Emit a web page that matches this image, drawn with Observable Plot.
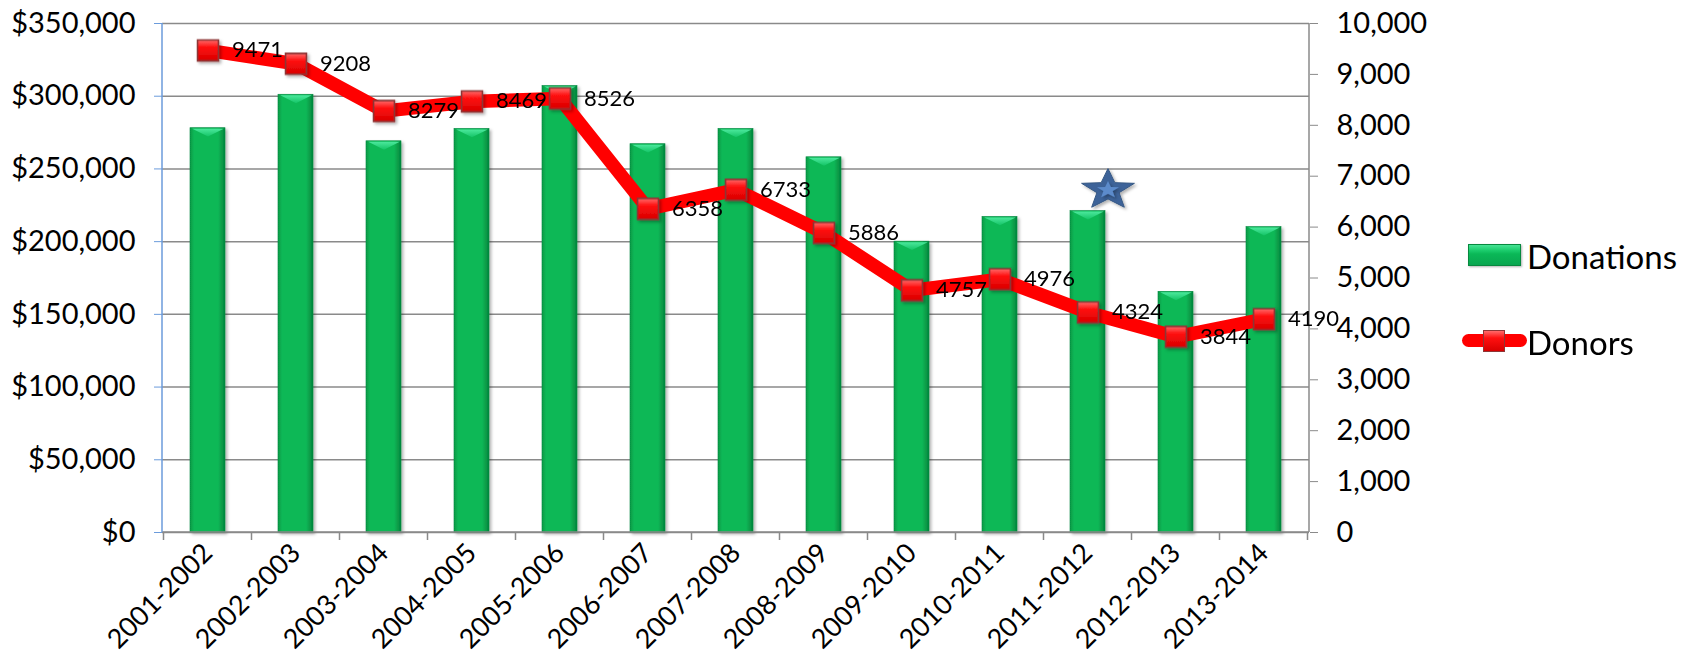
<!DOCTYPE html>
<html>
<head>
<meta charset="utf-8">
<script src="https://cdn.jsdelivr.net/npm/d3@7"></script>
<script src="https://cdn.jsdelivr.net/npm/@observablehq/plot@0.6"></script>
<style>
  html, body { margin: 0; padding: 0; background: #fff; }
  #wrap { position: relative; width: 1694px; height: 662px; font-family: Lato, sans-serif; }
  .lg { position: absolute; }
  .lgtext { position: absolute; font-size: 33px; color: #000; line-height: 1; transform: translateY(-50%); white-space: nowrap; }
</style>
</head>
<body>
<div id="wrap"></div>
<script>
// ---- data ----
const categories = ["2001-2002","2002-2003","2003-2004","2004-2005","2005-2006","2006-2007","2007-2008","2008-2009","2009-2010","2010-2011","2011-2012","2012-2013","2013-2014"];
const donations = [278000, 301000, 269000, 277500, 307000, 267000, 277500, 258000, 200000, 217000, 221000, 165500, 210000];
const donors = [9471, 9208, 8279, 8469, 8526, 6358, 6733, 5886, 4757, 4976, 4324, 3844, 4190];
const leftTicks = [0, 50000, 100000, 150000, 200000, 250000, 300000, 350000];
const rightTicks = [0, 1000, 2000, 3000, 4000, 5000, 6000, 7000, 8000, 9000, 10000];
const seriesNames = ["Donations", "Donors"];
const starCategory = "2011-2012";
const starDonors = 6730;

const leftMax = leftTicks[leftTicks.length - 1];
const rightMax = rightTicks[rightTicks.length - 1];
const k = leftMax / rightMax; // donors -> left-axis units

const table = categories.map((c, i) => ({year: c, donations: donations[i], donors: donors[i], dy: donors[i] * k}));

const blue = "#6B9BDB";
const gray = "#8A8A8A";

// squashed 5-point star like Office's
const starSymbol = {
  draw(context, size) {
    const R = Math.sqrt(size / Math.PI) * 1.78;
    const ri = R * 0.42, sx = 1.3;
    for (let i = 0; i < 10; i++) {
      const a = -Math.PI / 2 + i * Math.PI / 5;
      const r = i % 2 ? ri : R;
      const px = Math.cos(a) * r * sx, py = Math.sin(a) * r;
      if (i === 0) context.moveTo(px, py); else context.lineTo(px, py);
    }
    context.closePath();
  }
};

// bevel highlight on top of each bar (downward triangle)
const bevelSymbol = {
  draw(context, size) {
    const w = Math.sqrt(size / Math.PI) * 1.5;
    context.moveTo(-w, 0);
    context.lineTo(w, 0);
    context.lineTo(0, w * 0.5);
    context.closePath();
  }
};

function defsMark() {
  const defs = d3.create("svg:defs");
  const bg = defs.append("linearGradient").attr("id", "barGrad").attr("x1", "0").attr("x2", "1").attr("y1", "0").attr("y2", "0");
  [["0%", "#079946"], ["12%", "#0AB857"], ["80%", "#0AB857"], ["100%", "#05853D"]].forEach(([o, c]) => bg.append("stop").attr("offset", o).attr("stop-color", c));
  const vg = defs.append("linearGradient").attr("id", "bevGrad").attr("x1", "0").attr("x2", "0").attr("y1", "0").attr("y2", "1");
  [["0%", "#4BE89C"], ["100%", "#14C466"]].forEach(([o, c]) => vg.append("stop").attr("offset", o).attr("stop-color", c));
  const mg = defs.append("linearGradient").attr("id", "markGrad").attr("x1", "0").attr("x2", "0").attr("y1", "0").attr("y2", "1");
  [["0%", "#FF6A6A"], ["35%", "#FF1010"], ["100%", "#D80000"]].forEach(([o, c]) => mg.append("stop").attr("offset", o).attr("stop-color", c));
  const f = defs.append("filter").attr("id", "shadow").attr("x", "-20%").attr("y", "-20%").attr("width", "150%").attr("height", "150%");
  f.append("feDropShadow").attr("dx", 2).attr("dy", 2).attr("stdDeviation", 1.6).attr("flood-color", "#000").attr("flood-opacity", 0.3);
  return defs.node();
}

function frameMark(index, scales, values, dims) {
  const {width, height, marginLeft, marginRight, marginTop, marginBottom} = dims;
  const x = scales.x;
  const g = d3.create("svg:g");
  const bottom = height - marginBottom;
  const right = width - marginRight;
  const half = (x.step() - x.bandwidth()) / 2;
  const bounds = categories.map(c => x(c) - half).concat([x(categories[categories.length - 1]) + x.bandwidth() + half]);
  g.selectAll("line.xt").data(bounds).join("line")
    .attr("x1", d => d).attr("x2", d => d).attr("y1", bottom).attr("y2", bottom + 8)
    .attr("stroke", gray).attr("stroke-width", 1.5);
  g.append("line").attr("x1", marginLeft).attr("x2", right).attr("y1", bottom).attr("y2", bottom).attr("stroke", gray).attr("stroke-width", 1.5);
  g.append("line").attr("x1", right).attr("x2", right).attr("y1", marginTop).attr("y2", bottom).attr("stroke", gray).attr("stroke-width", 1.5);
  g.append("line").attr("x1", marginLeft).attr("x2", marginLeft).attr("y1", marginTop).attr("y2", bottom).attr("stroke", blue).attr("stroke-width", 1.5);
  return g.node();
}

const chart = Plot.plot({
  width: 1694,
  height: 662,
  marginLeft: 162,
  marginRight: 385,
  marginTop: 23,
  marginBottom: 130,
  style: {fontFamily: "Lato, sans-serif", fontSize: "29px", color: "#000", background: "#fff", overflow: "visible"},
  x: {type: "band", domain: categories, paddingInner: 0.6, paddingOuter: 0.3, label: null},
  y: {domain: [0, leftMax], label: null},
  marks: [
    defsMark,
    Plot.ruleY(leftTicks, {stroke: gray, strokeWidth: 1.5}),
    Plot.barY(table, {x: "year", y: "donations", fill: "url(#barGrad)", stroke: "#07893F", strokeWidth: 0.6}),
    Plot.dot(table, {x: "year", y: "donations", symbol: bevelSymbol, r: 10.5, dy: 0.5, fill: "url(#bevGrad)"}),
    frameMark,
    Plot.axisY(leftTicks, {anchor: "left", tickSize: 8, tickPadding: 19, stroke: blue, fill: "#000", fontSize: 29, tickFormat: d3.format("$,"), label: null}),
    Plot.axisY(rightTicks.map(d => d * k), {anchor: "right", tickSize: 8, tickPadding: 19, stroke: gray, fill: "#000", fontSize: 29, tickFormat: d => d3.format(",")(Math.round(d / k)), label: null}),
    Plot.axisX({anchor: "bottom", tickSize: 0, tickPadding: 16, tickRotate: -45, fontSize: 27, fill: "#000", label: null}),
    Plot.line(table, {x: "year", y: "dy", stroke: "#FF0000", strokeWidth: 13.5, strokeLinejoin: "round", strokeLinecap: "round"}),
    Plot.dot(table, {x: "year", y: "dy", symbol: "square", r: 11.8, fill: "url(#markGrad)", stroke: "#8E3636", strokeWidth: 1.6}),
    Plot.text(table, {x: "year", y: "dy", text: d => String(d.donors), dx: 24, textAnchor: "start", fontSize: 22, fill: "#000"}),
    Plot.dot([{year: starCategory, v: starDonors * k}], {x: "year", y: "v", symbol: starSymbol, r: 12, dx: 20, fill: "#3E6399", stroke: "#355884", strokeWidth: 1}),
    Plot.dot([{year: starCategory, v: starDonors * k}], {x: "year", y: "v", symbol: starSymbol, r: 5, dx: 20, fill: "#5B8BCB"})
  ]
});

d3.select(chart).selectAll('g[aria-label="bar"]').attr("filter", "url(#shadow)");
d3.select(chart).selectAll('g[aria-label="dot"]').filter((d, i, nodes) => nodes[i].querySelector("path") && i > 0).attr("filter", "url(#shadow)");

const wrap = document.getElementById("wrap");
wrap.appendChild(chart);

// legend (right side)
const lg = d3.select(wrap);
lg.append("div").attr("class", "lg")
  .style("left", "1468px").style("top", "244px").style("width", "53px").style("height", "22px")
  .style("box-sizing", "border-box").style("border", "1px solid #07893F")
  .style("background", "linear-gradient(to bottom, #46E394 0%, #1ACB6B 28%, #0AB857 45%, #09A650 100%)")
  .style("box-shadow", "1px 1px 2px rgba(0,0,0,0.3)");
lg.append("div").attr("class", "lgtext").style("left", "1527px").style("top", "256px").text(seriesNames[0]);
lg.append("div").attr("class", "lg")
  .style("left", "1462px").style("top", "334px").style("width", "65px").style("height", "13px")
  .style("border-radius", "6.5px").style("background", "#FF0000");
lg.append("div").attr("class", "lg")
  .style("left", "1483px").style("top", "330px").style("width", "22px").style("height", "22px")
  .style("box-sizing", "border-box").style("border", "1.6px solid #8E3636")
  .style("background", "linear-gradient(to bottom, #FF6A6A 0%, #FF1010 35%, #D80000 100%)");
lg.append("div").attr("class", "lgtext").style("left", "1527px").style("top", "342px").text(seriesNames[1]);
</script>
</body>
</html>
